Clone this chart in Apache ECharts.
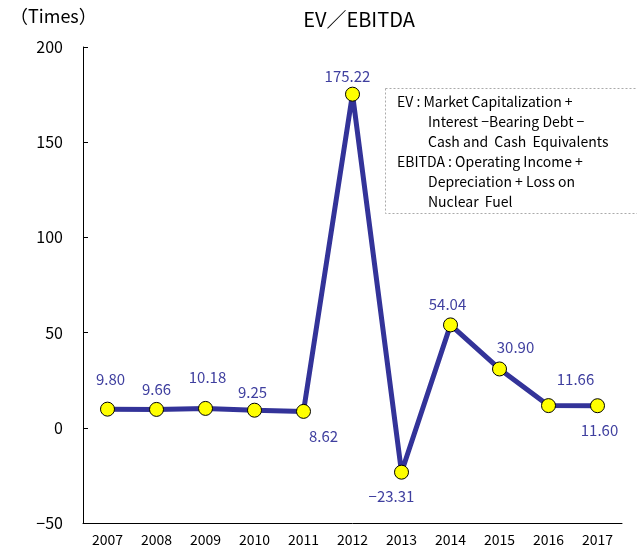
<!DOCTYPE html>
<html>
<head>
<meta charset="utf-8">
<script src="https://cdn.jsdelivr.net/npm/echarts@6/dist/echarts.min.js"></script>
<style>
  html, body { margin: 0; padding: 0; background: #fff; }
  #chartArea { width: 637px; height: 551px; }
</style>
</head>
<body>
<div id="chartArea"></div>
<script>
var years = ['2007', '2008', '2009', '2010', '2011', '2012', '2013', '2014', '2015', '2016', '2017'];
var evEbitda = [9.80, 9.66, 10.18, 9.25, 8.62, 175.22, -23.31, 54.04, 30.90, 11.66, 11.60];
// label shift from each point centre, px
var labelShift = [[3, -30], [0, -20], [2, -31], [-2, -18], [20, 25], [-5, -18],
                  [-10, 24], [-3, -21], [16, -22], [27, -26], [2, 25]];
var noteLines = [
    'EV : Market Capitalization +',
    'Interest \u2212Bearing Debt \u2212',
    'Cash and  Cash  Equivalents',
    'EBITDA : Operating Income +',
    'Depreciation + Loss on',
    'Nuclear  Fuel'
];
var noteIndent = [0, 1, 1, 0, 1, 1];

var font = '"Noto Sans CJK JP", "DejaVu Sans", sans-serif';
var labelColor = '#3f3f9f';

function minus(v) {
    return String(v).replace('-', '\u2212');
}

var seriesData = evEbitda.map(function (v, i) {
    return {value: v, label: {position: 'inside', offset: labelShift[i]}};
});

var graphics = [
    {
        type: 'rect',
        left: 385,
        top: 88,
        shape: {width: 270, height: 125},
        style: {fill: '#fff', stroke: '#aaa', lineWidth: 1, lineDash: [2, 2]},
        z: 10
    },
    {
        type: 'text',
        left: 10,
        top: 7,
        style: {text: '\uFF08Times\uFF09', fontFamily: font, fontSize: 18, fill: '#000'}
    }
];
noteLines.forEach(function (t, i) {
    graphics.push({
        type: 'text',
        left: noteIndent[i] ? 428 : 397,
        top: 95 + i * 20,
        style: {text: t, fontFamily: font, fontSize: 14, fill: '#000'},
        z: 11
    });
});

var option = {
    animation: false,
    title: {
        text: 'EV\uFF0FEBITDA',
        left: 354,
        textAlign: 'center',
        top: 4,
        textStyle: {fontFamily: font, fontSize: 20, fontWeight: 'normal', color: '#000'}
    },
    grid: {left: 83, right: 15, top: 47, bottom: 28},
    xAxis: {
        type: 'category',
        data: years,
        boundaryGap: true,
        axisLine: {onZero: false, lineStyle: {color: '#000', width: 1}},
        axisTick: {inside: true, length: 5, lineStyle: {color: '#000'}},
        axisLabel: {fontFamily: font, fontSize: 14, color: '#000', margin: 10}
    },
    yAxis: {
        type: 'value',
        min: -50,
        max: 200,
        interval: 50,
        splitLine: {show: false},
        axisLine: {show: true, lineStyle: {color: '#000', width: 1}},
        axisTick: {show: true, inside: true, length: 5, lineStyle: {color: '#000'}},
        axisLabel: {
            fontFamily: font, fontSize: 16, color: '#000', margin: 20,
            formatter: function (v) { return minus(v); }
        }
    },
    series: [
        {
            name: 'EV/EBITDA',
            type: 'line',
            data: seriesData,
            symbol: 'circle',
            symbolSize: 14,
            lineStyle: {color: '#333399', width: 5},
            itemStyle: {color: '#ffff00', borderColor: '#000', borderWidth: 1},
            label: {
                show: true,
                fontFamily: font,
                fontSize: 15,
                color: labelColor,
                formatter: function (p) { return minus(p.value.toFixed(2)); }
            },
            z: 3
        }
    ],
    graphic: graphics
};

var myChart = echarts.init(document.getElementById('chartArea'));
myChart.setOption(option);
</script>
</body>
</html>
